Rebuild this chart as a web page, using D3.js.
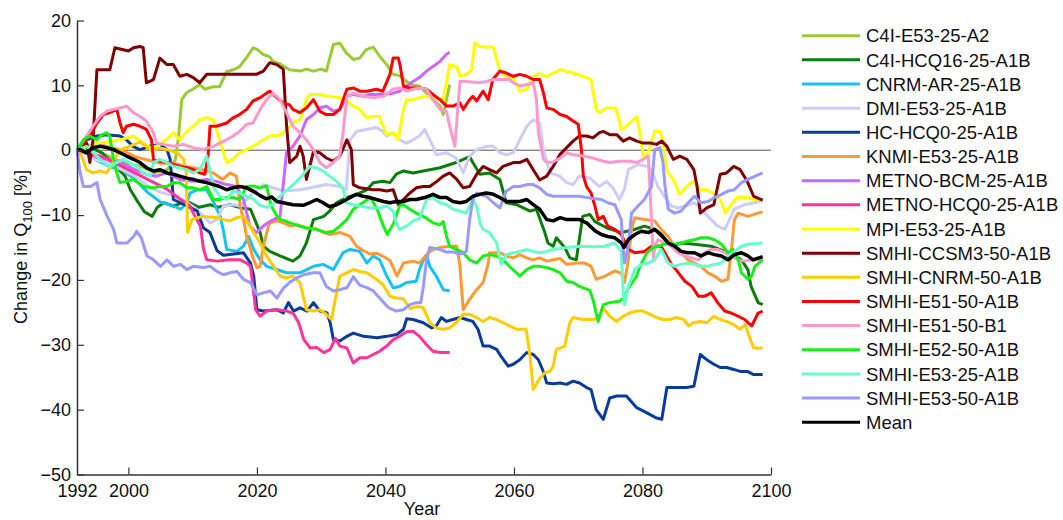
<!DOCTYPE html>
<html>
<head>
<meta charset="utf-8">
<script src="https://cdn.jsdelivr.net/npm/d3@7/dist/d3.min.js"></script>
<style>
  body { margin: 0; background: #fff; }
  svg { font-family: "Liberation Sans", Arial, sans-serif; }
</style>
</head>
<body>
<div id="chart"></div>
<script>
// Dades llegides del gràfic: [any, canvi en %]
const c4iE53 = [[1992,0],[1994,0.8],[1996,-0.5],[1998,-1.5],[2000,-2],[2002,-2.5],[2004,-3.5],[2006,-3],[2007.3,-1.5],[2007.8,2],[2008.3,7.8],[2009.1,8.9],[2010,9.4],[2011.1,10.1],[2011.9,9.4],[2013.2,9.8],[2014.2,9.8],[2015.3,12.1],[2016.3,12.4],[2017.3,12.9],[2018.4,14.3],[2019.4,15.8],[2020.1,15.5],[2020.9,14.8],[2022,14.4],[2022.5,13.7],[2023.6,13.3],[2025.1,12.4],[2026.7,12.2],[2027.7,12.5],[2028.8,12.2],[2030,12.5],[2030.8,12.2],[2031.9,16.3],[2032.9,16.5],[2033.9,15],[2035,14],[2036,14.2],[2037,15.5],[2038.1,15.9],[2039.1,14.5],[2040.2,13.2],[2041.2,11.7],[2042.2,11.5],[2043.3,10.6],[2044.3,10],[2045.3,9.9],[2046.4,8.8],[2047.4,7.8],[2048.5,6.8],[2049,5.5],[2049.5,7.8],[2050,10.1]];

const c4iHcq16 = [[1992,0],[1993,1],[1994,0.5],[1996,-0.5],[1998,-2.5],[1999.5,-4],[2000.3,-6.1],[2001.5,-8],[2002.5,-9.5],[2003.7,-10.2],[2004.5,-8.8],[2005.5,-8.1],[2007,-8.6],[2009.1,-7.9],[2011,-8.8],[2012.7,-8.4],[2014,-8.8],[2015.8,-8.4],[2017.5,-8.9],[2019,-9.1],[2020.5,-12.7],[2021,-14.8],[2022,-15.6],[2023.6,-16.3],[2025.6,-17.1],[2026.7,-16.3],[2027.7,-14.3],[2028.8,-10.7],[2030.4,-10.2],[2031.3,-9.4],[2032.4,-8.1],[2033.9,-7.3],[2035.5,-6.8],[2037.1,-6.1],[2038.1,-5],[2039.6,-4.8],[2040.7,-5],[2041.7,-3.7],[2042.8,-3.2],[2044.3,-3.5],[2045.9,-3.2],[2048.5,-2.7],[2051,-1.9],[2053.1,-1],[2053.6,-1.9],[2054.7,-3.7],[2056.2,-3.5],[2057.8,-4.5],[2058.8,-8.1],[2060.4,-8.4],[2062.5,-9.4],[2063.5,-9.1],[2064.8,-12.7],[2065.3,-14.3],[2066.1,-14.8],[2066.6,-13.5],[2067.9,-15],[2068.7,-16.6],[2069.7,-16.9],[2070.7,-10.2],[2071.8,-9.9],[2072.6,-11],[2074.5,-12],[2076.7,-12.7],[2078.5,-12.3],[2080.3,-11.7],[2081.9,-12.2],[2084.5,-14.8],[2086,-14.3],[2088.1,-14.5],[2090.7,-14.8],[2093.3,-15.8],[2095.4,-16.9],[2096.4,-18.4],[2096.9,-21],[2098,-23.5],[2098.7,-23.8]];

const cnrmAr = [[1992,0],[1993.5,0.5],[1995,-1.5],[1997,-2.5],[1999,-3],[2001,-4.5],[2003,-6.5],[2005,-8],[2007,-8.6],[2008.1,-9.1],[2009.1,-8.1],[2009.6,-6.6],[2010.7,-6.1],[2012.2,-6.1],[2013.3,-8.1],[2014.3,-10.2],[2014.8,-12.5],[2015.3,-15.3],[2016.9,-15.6],[2017.9,-14.8],[2018.7,-13.3],[2019.5,-15.3],[2020.5,-16.9],[2021.5,-17.9],[2023.1,-18.4],[2024.6,-18.9],[2026.7,-18.9],[2028.8,-17.9],[2030.3,-17.6],[2031.9,-18.4],[2033.4,-15.8],[2034.5,-15.3],[2036,-15.6],[2037.1,-17.4],[2038.1,-16.3],[2039.1,-16.9],[2040.2,-19.4],[2041.2,-21.2],[2042.2,-21],[2043.3,-20.4],[2044.8,-20.2],[2045.3,-18.4],[2045.9,-16.9],[2046.4,-16.3],[2046.9,-17.9],[2047.9,-19.4],[2049,-21.5],[2050,-21.7]];

const dmiE53 = [[1992,0],[1993.5,-0.5],[1995,-1.5],[1997,-2],[1999,-3],[2001,-4],[2003,-5.5],[2005,-6.5],[2007,-7],[2009,-8],[2010.5,-9],[2011.7,-10.2],[2012.7,-11.2],[2013.8,-10.7],[2014.8,-8.6],[2016.4,-8.4],[2017.4,-8.6],[2018.5,-7.5],[2019.5,-6.5],[2021,-5.3],[2024.1,-6.3],[2026.7,-6.1],[2029.3,-5.6],[2030.8,-5.3],[2032.9,-5.6],[2033.9,-6.1],[2034.5,1.6],[2035.5,2.9],[2037,3.2],[2038.6,3.5],[2039.6,2.9],[2040.2,2.2],[2041.2,2.7],[2042.2,1.6],[2043.3,1.1],[2044.3,1.6],[2045.3,2.2],[2046.1,3.2],[2046.6,2.2],[2047.4,0.6],[2047.9,-0.7],[2049.5,-0.4],[2051,-1.2],[2052.1,-3.5],[2053.1,-0.9],[2054.2,0.1],[2055.7,0.6],[2056.8,0.6],[2057.8,-0.4],[2058.8,-0.7],[2059.9,-0.4],[2060.9,1.6],[2062,3.7],[2063,4.7],[2064,4.2],[2064.6,0],[2065.6,-3.5],[2067.1,-4],[2068.2,-5],[2069.2,-5.3],[2070.2,-4],[2071.8,-4.3],[2073.3,-5.6],[2074.4,-4.8],[2075.4,-5.8],[2076.4,-7.6],[2077.2,-6],[2077.8,-3],[2079.3,-2.2],[2080.8,-2.5],[2081.6,-3.5],[2082.4,-5.6],[2083.4,-7.1],[2084.5,-8.6],[2085.5,-8.9],[2086.6,-8.6],[2088.1,-8.1],[2089.7,-9.7],[2090.7,-10.7],[2091.7,-11.7],[2092.8,-12.2],[2093.3,-11.2],[2094.3,-9.1],[2095.9,-8.4],[2097.4,-8.1],[2098.7,-7.8]];

const hcHcq0 = [[1992,0],[1993.5,1.6],[1995.1,2.2],[1996.6,2.4],[1998.7,2.2],[1999.7,1.6],[2000.7,0.6],[2001.8,0.1],[2003.3,0.6],[2004.9,0.9],[2006,0.1],[2006.5,-1.4],[2007,-7.6],[2008.1,-8.1],[2009.1,-8.6],[2010.7,-9.4],[2011.7,-12],[2012.7,-12.7],[2013.8,-15.5],[2014.8,-16.2],[2016.4,-16],[2017.9,-15.8],[2019,-17.4],[2019.5,-19.4],[2020,-24.6],[2021,-24.8],[2023.1,-24.6],[2024.1,-25.1],[2024.9,-23.5],[2025.7,-24.8],[2026.7,-24.3],[2027.8,-24.8],[2028.8,-23.5],[2029.8,-24.8],[2030.9,-25.1],[2031.4,-26.6],[2031.9,-29.2],[2032.9,-29.4],[2034,-28.7],[2035,-28.2],[2036.6,-28.7],[2038.7,-28.9],[2040.2,-28.7],[2041.8,-28.4],[2042.8,-27.6],[2043.3,-26],[2044.3,-26.1],[2045.9,-26.6],[2047.2,-27.4],[2047.9,-27.1],[2048.7,-25.8],[2049.5,-26.4],[2050.5,-26.1],[2051.6,-25.8],[2052.6,-26.1],[2053.6,-26.4],[2054.4,-27.6],[2055.2,-30.2],[2056.2,-30.2],[2057.3,-30.7],[2058,-31.8],[2059.1,-33.3],[2059.9,-33],[2060.9,-32.3],[2062,-31.2],[2063,-31.5],[2063.8,-32.3],[2064.6,-34.2],[2065.1,-35.9],[2066.1,-36],[2067.2,-35.9],[2068.2,-36.1],[2069.2,-35.6],[2070.2,-35.9],[2071.3,-36.6],[2072,-36.9],[2072.8,-40],[2073.9,-41.5],[2074.9,-38.2],[2076,-37.9],[2077.5,-37.9],[2079.1,-39.7],[2080.7,-40.5],[2082.2,-41.3],[2083,-41.5],[2083.8,-36.6],[2084.8,-36.6],[2086.9,-36.6],[2088,-36.4],[2089,-31.5],[2090,-32.3],[2091.1,-33],[2092.1,-33.5],[2093.1,-33.5],[2094.2,-33.8],[2095.2,-34.1],[2096.3,-34.1],[2097.3,-34.6],[2098.7,-34.6]];

const knmiE53 = [[1992,0],[1993.5,0.5],[1995,1],[1997,0.5],[1999,0],[2001,-1],[2003,-1.5],[2005,-2],[2007,-2],[2009,-2.5],[2011.6,-3],[2013.2,-3.5],[2014.7,-4.5],[2015.8,-3.5],[2016.8,-4],[2017.4,-8.6],[2017.9,-10.7],[2018.4,-13.3],[2019.5,-16.9],[2020,-18.1],[2020.5,-17.9],[2021,-14.8],[2021.8,-11.7],[2022.1,-11.2],[2023.1,-10.9],[2024.1,-11.2],[2025.2,-11.7],[2026.2,-11.5],[2027.8,-12],[2029.3,-12.2],[2030.4,-12.7],[2031.4,-13],[2033,-12.7],[2034.5,-13.3],[2035.5,-14.8],[2036.6,-15.5],[2037.6,-16],[2038.7,-15.9],[2039.7,-16.4],[2040.7,-17],[2041.8,-19.4],[2042.8,-17.4],[2044.3,-17.1],[2045.3,-17.4],[2046.4,-16.1],[2047.4,-15.3],[2048.5,-15],[2050,-14.8],[2051.1,-14.8],[2051.6,-17.9],[2052.1,-24.6],[2053.1,-23],[2054.2,-21.5],[2055.2,-20.4],[2056,-17.4],[2056.2,-15.8],[2057.8,-15.8],[2058.8,-16.3],[2059.9,-16.6],[2060.9,-16.1],[2062,-16.6],[2063,-16.9],[2064,-16.6],[2065.1,-17.1],[2066.1,-16.9],[2067.2,-16.7],[2068.2,-17.6],[2069.7,-17.4],[2071,-17.4],[2072,-17.9],[2072.8,-19.9],[2074.2,-19.4],[2075.7,-18.6],[2076.7,-19],[2077.2,-20.4],[2077.8,-16.9],[2078.3,-12.2],[2078.8,-10.4],[2080.4,-10.7],[2081.9,-10.9],[2082.9,-12.2],[2084,-13.3],[2085,-14.8],[2086,-15.8],[2087.1,-16.9],[2088.1,-17.4],[2089.1,-17.9],[2090.2,-18.9],[2091.2,-19.4],[2092.3,-20.2],[2093.3,-19.9],[2093.8,-15.8],[2094.3,-10.7],[2094.9,-9.7],[2096.4,-10.2],[2098,-9.7],[2098.7,-9.5]];

const metnoBcm = [[1992,0],[1993.5,-0.5],[1995,-1],[1997,-1.5],[1999,-2],[2001,-3],[2003,-3.8],[2004.4,-4],[2005.9,-3.5],[2008,-4.5],[2010.1,-4.8],[2012.2,-4.5],[2013.7,-4.8],[2015.3,-5.3],[2016.8,-5.6],[2017.9,-7.6],[2018.9,-11.7],[2019.9,-12.7],[2021,-11.7],[2022,-11],[2023.6,-10.2],[2024.1,-5.3],[2024.6,-0.4],[2025.6,0.6],[2026.7,2.2],[2027.7,4.7],[2028.8,5.5],[2029.8,6.5],[2030.8,6.8],[2031.9,6],[2032.9,6.3],[2034,8.3],[2035,8.6],[2036.6,8.3],[2037.6,8.6],[2039.7,8.6],[2041.2,8.8],[2042.2,9.1],[2043.3,9.9],[2044.3,10.6],[2045.3,11.2],[2046.4,12.2],[2047.4,12.9],[2048.5,13.7],[2049.5,14.8],[2050,15.1]];

const metnoHcq0 = [[1992,0],[1994,-0.5],[1996,-1],[1998,-2],[2000,-3],[2002,-4],[2004,-5],[2006,-6],[2008,-7.5],[2009.6,-8.6],[2010.1,-9.7],[2011.2,-11.7],[2011.7,-15.3],[2012.2,-16.9],[2013.8,-17.1],[2015.8,-16.9],[2017.4,-16.9],[2018.4,-17.4],[2019,-17.9],[2019.5,-22],[2019.8,-24.6],[2020.5,-25.6],[2021.5,-24.8],[2023.1,-24.6],[2024.7,-24.8],[2025.7,-25.2],[2026.5,-26.6],[2027.3,-29.2],[2028.3,-30.5],[2029.3,-30.4],[2030.4,-31.2],[2031.4,-30.7],[2032.2,-29],[2032.9,-30.2],[2034,-30.5],[2035,-32.8],[2036,-32],[2037.1,-32],[2038.1,-31.5],[2039.1,-31],[2040.2,-30.2],[2041.2,-29.2],[2042.2,-28.7],[2043.3,-28],[2044.3,-27.9],[2045.3,-28.7],[2046.4,-30],[2047.4,-31],[2048.5,-31.2],[2050,-31.2]];

const mpiE53 = [[1992,0],[1993.5,0.5],[1995.6,1.1],[1998.7,1.6],[2000.8,2.2],[2002.3,1.1],[2003.4,0.4],[2004.4,0.6],[2005.9,1.6],[2007,2.7],[2008,1.6],[2009.1,2.9],[2010.1,3.7],[2011.1,4.7],[2012.2,5],[2013.2,4.7],[2014.2,1.6],[2015.3,-1.9],[2016.3,-1.4],[2017.3,-0.4],[2018.4,0.1],[2019.4,0.6],[2021,1.6],[2022,2.2],[2023.6,2.3],[2024.6,3.2],[2025.6,4.2],[2026.7,4.7],[2027.7,7.8],[2028.2,8.6],[2029.8,8.6],[2031.3,8.3],[2032.9,8.1],[2034,7.6],[2035,6.8],[2036,6.3],[2037.1,5],[2038.1,5.2],[2039.1,5.2],[2039.6,3.7],[2040.2,2.4],[2041.2,2.7],[2042,1.6],[2042.8,6.3],[2043.3,7.8],[2044.3,7.8],[2045.3,8.1],[2046.4,8.3],[2047.4,8.1],[2048.5,7.8],[2049,7.8],[2049.5,10.4],[2050,13.2],[2051.1,12.9],[2051.6,11.4],[2052.7,11.7],[2053.4,12.4],[2053.9,16.6],[2054.7,16],[2055.7,15.9],[2056.8,15.9],[2057.3,14],[2057.8,12.4],[2058.8,11.2],[2059.9,11.2],[2060.9,9.1],[2062,9.4],[2063,11.4],[2064,11.8],[2065.1,11.3],[2066.1,11.9],[2067.2,12.4],[2069.2,11.9],[2070.8,11.4],[2072,10.9],[2072.8,6.3],[2073.3,5.8],[2074.4,6.5],[2075.9,6.5],[2076.7,3.2],[2077.5,3.7],[2079.1,5.2],[2079.6,2.7],[2080.1,-0.9],[2080.9,-0.4],[2081.9,2.9],[2082.7,2.9],[2083.2,1.6],[2083.7,-3],[2084.8,-4.5],[2085.8,-6.8],[2086.9,-5.6],[2087.9,-4.8],[2089,-6.1],[2090,-6.1],[2091,-6.6],[2092.1,-7.6],[2092.9,-9.7],[2093.7,-8.6],[2094.7,-7.3],[2096.3,-7.3],[2097.3,-7.6],[2098.7,-7.6]];

const smhiCcsm3 = [[1992,0],[1992.5,0.1],[1993.5,1.1],[1994,-1.9],[1994.5,1.6],[1995.1,12.4],[1997.1,12.4],[1997.9,15.8],[1999.2,15.5],[2000,15.3],[2000.8,15.8],[2001.8,16],[2002.3,15.8],[2002.8,10.4],[2003.9,10.9],[2004.9,14.2],[2006,13.2],[2007,13.2],[2008,11.4],[2009.1,11.7],[2010.1,11.2],[2011.1,10.4],[2012.2,11.7],[2014.2,11.7],[2016.3,11.7],[2018.9,11.7],[2019.9,11.7],[2021,12.2],[2022,13.5],[2023.1,13.2],[2024.1,12.5],[2024.6,4],[2025.1,-1.9],[2026.2,-0.9],[2026.7,0.6],[2027.2,-0.9],[2027.7,-4.5],[2028.8,-0.2],[2029.8,-0.4],[2030.8,-1.2],[2031.9,-1.7],[2032.9,-0.9],[2034,1.6],[2034.7,0.1],[2035,-5.3],[2036,-5.8],[2038.1,-6.1],[2039.1,-6.1],[2040.2,-6.3],[2041.2,-6.1],[2042,-8.4],[2042.8,-7.6],[2043.8,-6.6],[2044.8,-5.8],[2045.9,-5.6],[2046.9,-5.6],[2048,-4.8],[2049,-4],[2050,-3.5],[2051.1,-4.5],[2052.1,-5.8],[2053.1,-5.6],[2054.2,-3.7],[2055.2,-2.5],[2056.2,-3],[2057.3,-3.5],[2058.3,-2.5],[2059.9,-1.9],[2060.9,-1.9],[2062,-1.4],[2063,-3],[2064,-4.6],[2065.1,-4],[2066.1,-2.5],[2067.2,-0.6],[2068.2,0.4],[2069.2,1.4],[2070.2,2.2],[2071.3,2.2],[2072.3,1.9],[2073.3,2.7],[2073.9,2.9],[2074.9,2.4],[2076,2.4],[2077,1.4],[2078,1.9],[2079.1,1.4],[2080.1,1.1],[2081.2,1.1],[2082.2,0.9],[2083,1.4],[2083.8,0.6],[2084.8,-1.4],[2085.8,-0.9],[2086.9,-1.4],[2088,-3],[2088.5,-5.6],[2089,-9.7],[2090,-8.9],[2091.1,-8.4],[2092.1,-3.7],[2093.1,-3.5],[2094.2,-2.5],[2095.2,-3],[2096.3,-4.8],[2097.3,-7.1],[2098.7,-7.7]];

const smhiCnrm = [[1992,0],[1992.7,-0.9],[1993.5,-3],[1994.5,-3.5],[1995.6,-3.2],[1996.6,-3.5],[1997.6,-1.9],[1998.7,0.1],[2000,0.5],[2001.8,1.3],[2003.5,0],[2005,0.3],[2006,0.1],[2007.6,-0.4],[2008.6,-1.4],[2009,-3.5],[2009.2,-12.7],[2009.9,-10.7],[2010.7,-10.4],[2011.7,-10.2],[2013.8,-10.4],[2014.8,-10.7],[2015.8,-10.9],[2016.9,-10.4],[2017.9,-10.2],[2018.6,-11.2],[2019.5,-12.7],[2020.5,-14.3],[2021.5,-16.3],[2022.6,-17.9],[2023.6,-19.4],[2024.6,-19.7],[2025.6,-19.4],[2026.7,-20.4],[2027.7,-24.6],[2028.8,-24.8],[2029.8,-24.6],[2030.8,-25.3],[2031.6,-26.1],[2032.4,-22],[2032.9,-19.4],[2034,-18.9],[2035,-18.4],[2036,-18.7],[2037.1,-18.9],[2038.6,-19.9],[2039.6,-20.7],[2040.7,-22.5],[2041.7,-22.8],[2042.8,-22.9],[2043.8,-24.4],[2044.9,-24.1],[2045.9,-24.3],[2046.9,-26.6],[2047.9,-27.4],[2049,-27.6],[2050,-27.4],[2051,-26.6],[2052.1,-25.3],[2053.1,-25.3],[2054.2,-25.8],[2055.2,-26.4],[2056.2,-25.8],[2057.3,-26.1],[2058.3,-26.6],[2059.3,-27.1],[2060.4,-27.6],[2061.9,-27.6],[2062.5,-31.8],[2063,-36.9],[2064,-35.2],[2064.8,-34.3],[2065.6,-34.1],[2066.1,-33.3],[2066.6,-30.7],[2067.2,-30.5],[2067.9,-30.2],[2068.7,-26.6],[2069.2,-25.8],[2070.8,-26.1],[2072.3,-26.1],[2073.1,-25.8],[2073.9,-24.3],[2074.9,-25.6],[2076,-26.4],[2077,-25.6],[2078,-25.1],[2079.1,-24.8],[2080.1,-24.8],[2081.2,-25.3],[2082.2,-25.8],[2083.2,-26.1],[2084.3,-26.1],[2085.3,-25.8],[2086.4,-26.1],[2087.2,-27.1],[2087.9,-26.6],[2089,-26.4],[2090,-26.6],[2091.1,-25.6],[2092.1,-26.1],[2093.1,-26.4],[2094.2,-26.9],[2095.2,-27.6],[2096,-26.9],[2096.8,-29.2],[2097.3,-30.5],[2098.7,-30.5]];

const smhiE51A1b = [[1992,0],[1993.5,1.6],[1994,2.2],[1995.1,4.2],[1996.1,5.5],[1997.1,5.8],[1998.2,6.3],[1998.7,4.2],[1999.2,2.7],[1999.7,3.7],[2000.8,4],[2001.8,3.7],[2002.8,3.2],[2003.6,1.6],[2003.9,-1.4],[2004.9,-1.7],[2006,-1.9],[2007,-2.2],[2008,-2.5],[2009.1,-2.7],[2010.1,-3],[2011.1,-3.5],[2011.9,-3.7],[2012.4,-0.9],[2012.7,3.7],[2013.7,3.7],[2015.3,4.2],[2016.3,5],[2017.3,5.5],[2018.4,6.3],[2019.4,7.6],[2020.5,8.1],[2021.5,8.8],[2022,9.1],[2023.1,8.1],[2024.1,7.3],[2025.1,7],[2025.6,6.3],[2026.7,5.8],[2027.7,6.5],[2028.8,7.8],[2029.8,6],[2030.8,5.5],[2031.9,5.5],[2032.9,6.3],[2034,9.4],[2035,9.6],[2036,9.1],[2037.1,9.1],[2038.6,9.4],[2039.6,9.1],[2040.7,11.7],[2041.2,14.2],[2042,14.2],[2042.3,13],[2042.8,9.9],[2043.8,9.6],[2045.3,9.6],[2046.4,9.4],[2047.4,8.6],[2048.5,7.8],[2049.5,6.8],[2050.5,6.8],[2051.6,7.3],[2052.1,6.3],[2053.1,7.8],[2053.6,8.3],[2054.2,7.6],[2055.2,9.1],[2056,7.8],[2056.7,10.9],[2057.8,12.2],[2058.8,11.9],[2059.9,11.4],[2060.9,11.7],[2062,11.4],[2063,10.9],[2064,10.9],[2064.6,8.8],[2065.1,6.5],[2066.1,6.3],[2067.2,5.5],[2068.2,5.2],[2069.2,4.5],[2070,4],[2070.5,0.1],[2070.8,-4],[2071.3,-5.6],[2072,-6.6],[2072.6,-8.6],[2073.1,-10.7],[2073.9,-10.2],[2074.6,-11.7],[2075.7,-12.2],[2076.7,-13],[2077.8,-15.3],[2078.8,-15.8],[2080.3,-15.6],[2081.4,-14.8],[2082.9,-14.8],[2084.5,-17.6],[2085.6,-18.9],[2086.6,-20.2],[2087.7,-21],[2088.7,-22.5],[2089.7,-22.5],[2090.7,-22],[2091.7,-23.5],[2092.8,-24.8],[2093.8,-25.1],[2094.9,-25.6],[2095.9,-26.1],[2097,-27.1],[2098,-25.1],[2098.7,-24.8]];

const smhiE51B1 = [[1992,0],[1993.5,2.2],[1994.5,3.7],[1995.6,5.2],[1996.6,6],[1997.7,6.3],[1998.7,6.5],[1999.7,6.8],[2000.8,5.8],[2001.8,5.2],[2002.8,4.5],[2003.9,2.7],[2004.4,1.1],[2005.4,0.9],[2007,0.6],[2008.5,0.9],[2010.1,0.4],[2011.6,0.1],[2013.2,0.6],[2014.2,1.1],[2015.3,1.6],[2016.3,2.2],[2017.3,2.9],[2018.4,4],[2019.4,4.2],[2020.5,6.3],[2021.5,7.8],[2022.5,8.8],[2023.6,7.8],[2024.6,5.8],[2025.6,3.7],[2026.7,2.7],[2027.7,1.6],[2028.8,0.1],[2029.8,-1.9],[2030.8,-2.7],[2031.9,-1.9],[2032.9,-0.9],[2033.4,2.7],[2034,8.3],[2035,8.8],[2036.6,8.3],[2038.1,8.1],[2039.7,8.3],[2041.2,9.4],[2042.2,9.6],[2043.3,9.1],[2044.3,9.4],[2045.3,9.6],[2046.4,9.4],[2047.4,7.8],[2048.5,6.3],[2049.5,6],[2050,3.7],[2050.8,0.6],[2051.6,10.6],[2052.6,10.6],[2054.7,10.4],[2055.7,10.6],[2056.8,10.9],[2059.3,10.9],[2059.9,10.4],[2060.9,9.9],[2062,10.1],[2063,10.4],[2063.5,7.8],[2063.8,2.7],[2064.6,-1.4],[2065.1,-1.9],[2066.1,-1.8],[2067.2,-1.2],[2068.2,-0.4],[2069.2,-0.7],[2070.8,-0.9],[2072.3,-1.2],[2073.9,-1.7],[2074.9,-1.9],[2076.4,-1.7],[2078,-1.7],[2079.1,-1.9],[2080.1,-1.4],[2080.9,-0.9],[2081.2,-6.6],[2081.4,-10.7],[2081.7,-16.9],[2081.9,-14.8],[2082.4,-13.8],[2083.4,-14.3],[2084.5,-14.8],[2085.5,-15.8],[2086.6,-16.3],[2087.7,-16.6],[2088.7,-16.9],[2089.7,-15.8],[2090.7,-15.3],[2091.7,-15.3],[2092.8,-15.8],[2093.8,-16.3],[2094.9,-16.9],[2095.9,-17.1],[2097,-16.9],[2098.7,-16.9]];

const smhiE52 = [[1992,0],[1993,1.6],[1994,2.2],[1995.1,1.6],[1995.6,2.2],[1996.6,2.7],[1997.1,2.2],[1997.6,-0.9],[1998.2,-3.5],[1998.7,-5],[1999.7,-4.8],[2000.8,-4.5],[2002.3,-5.6],[2003.9,-5.8],[2004.9,-5.6],[2006,-5.6],[2007,-5],[2008,-5],[2009.1,-5.8],[2010.1,-5.8],[2011.1,-6.1],[2012.2,-5.6],[2013.2,-7.6],[2014.2,-7.6],[2015.3,-7.3],[2016.3,-7.3],[2017.3,-7.6],[2018.4,-5.6],[2019.4,-5.5],[2020.5,-5.8],[2021.5,-5.5],[2022.2,-8.5],[2023.3,-10.5],[2025.1,-11.2],[2026.7,-11.7],[2027.7,-12],[2029.3,-12.2],[2030.8,-12.7],[2031.9,-12.5],[2032.9,-11.7],[2034,-10.7],[2035,-9.1],[2036,-8.4],[2037.7,-7.3],[2038.7,-9.1],[2039.7,-11.7],[2040.3,-13],[2041.3,-11.2],[2042.2,-8.6],[2042.8,-8.4],[2043.8,-9.1],[2044.8,-9.7],[2046.1,-10.3],[2047.4,-11.2],[2048.5,-11.5],[2049,-11],[2049.5,-13.3],[2050,-14.8],[2051,-15.3],[2052.1,-15.8],[2053.1,-16.9],[2054.2,-17.4],[2055.2,-16.3],[2056.2,-16.1],[2057.3,-16.3],[2058.3,-16.9],[2059.3,-17.9],[2060.4,-18.9],[2060.9,-19.4],[2062,-18.4],[2063,-17.9],[2064,-17.9],[2065.1,-18.1],[2066.1,-18.4],[2067.2,-18.9],[2068.2,-20.2],[2069.2,-20.4],[2070.2,-21],[2071.8,-21.6],[2072.3,-23],[2073.1,-26.4],[2073.9,-23.8],[2074.9,-23.5],[2076.4,-23.3],[2077,-22.8],[2078,-21],[2079.1,-19.4],[2079.6,-17.9],[2080.7,-15.8],[2081.7,-15],[2082.7,-14.7],[2084,-14.3],[2085,-14.5],[2086,-14.3],[2087.1,-14],[2088.1,-13.8],[2089.1,-13.5],[2090.2,-13.5],[2091.2,-13.8],[2092.3,-14.5],[2093.3,-15.8],[2094.1,-15.3],[2094.9,-16.9],[2095.4,-18.9],[2096.4,-19.9],[2097,-19.4],[2097.5,-17.9],[2098.7,-16.9]];

const smhiE53_25 = [[1992,0],[1993.5,0.6],[1995.1,-0.9],[1996.1,-1.9],[1997.1,-2.5],[1998.2,-1.9],[1999.2,-1.4],[2000.2,-1.9],[2001.3,-2.5],[2002.3,-3.5],[2003.4,-4],[2003.9,-1.9],[2004.9,-1.4],[2006,-1.9],[2007,-2.5],[2008,-2.7],[2009.1,-3],[2010.1,-3.5],[2011.1,-3],[2012.2,-0.9],[2013.2,-5.6],[2014.2,-7.1],[2015.3,-7.6],[2016.3,-6.3],[2017.3,-6.6],[2018.4,-7.1],[2019.4,-7.5],[2020.5,-8.5],[2021.5,-8.8],[2022.5,-8.3],[2023.1,-7.6],[2024.1,-6.6],[2025.1,-5.8],[2026.2,-4.8],[2027.2,-3.7],[2028.2,-2.5],[2029.3,-2.7],[2030.3,-3.2],[2031.3,-4],[2032.4,-4.8],[2033.4,-5.8],[2033.9,-8.1],[2035,-8.4],[2036,-8.6],[2037.7,-8.9],[2039.1,-8.9],[2040.2,-8.6],[2041.2,-9.4],[2041.7,-11.2],[2042.2,-12.2],[2043.3,-11.7],[2044.3,-10.9],[2045.3,-10.5],[2046.4,-7.6],[2047.4,-7.3],[2048.5,-8.1],[2049.5,-8.4],[2050.5,-9.1],[2051.6,-9.4],[2052.6,-9.7],[2053.6,-7.6],[2054.2,-8.6],[2054.7,-11.2],[2055.2,-12.2],[2056.2,-12.7],[2057.3,-14.3],[2058,-17.6],[2058.8,-16.1],[2059.9,-15.8],[2060.9,-15.6],[2062,-15.3],[2063,-15.6],[2064,-15.8],[2065.1,-15.6],[2066.1,-15.3],[2068.2,-15],[2070.2,-14.8],[2072.6,-14.9],[2074.1,-14.8],[2075.7,-14.3],[2076.7,-15.6],[2077,-22],[2077.2,-23.8],[2077.8,-21],[2078.8,-18.4],[2079.8,-17.6],[2080.9,-17.4],[2081.9,-16.9],[2082.9,-15.3],[2084,-17.4],[2085,-17.9],[2086,-17.6],[2087.1,-17.4],[2088.1,-17.6],[2089.1,-17.9],[2090.2,-17.9],[2091.2,-17.6],[2092.3,-17.4],[2093.3,-16.3],[2094.3,-15.6],[2095.4,-14.8],[2096.4,-14.5],[2098.7,-14.3]];

const smhiE53_50 = [[1992,0],[1992.5,-3.5],[1993,-5.6],[1994.1,-5.6],[1995.1,-5],[1995.6,-7.6],[1996.7,-10.2],[1997.7,-12.2],[1998.2,-14.3],[1999.8,-14.3],[2000.8,-13.3],[2001.3,-12.5],[2002,-13.5],[2002.9,-16.3],[2003.9,-16.9],[2005,-17.9],[2006,-16.9],[2007,-17.9],[2008.1,-17.6],[2009.1,-18.4],[2010.1,-17.9],[2011.7,-18.1],[2012.7,-17.9],[2013.8,-18.7],[2014.8,-19.2],[2015.8,-18.9],[2016.9,-18.7],[2017.9,-19.9],[2019,-20.4],[2020,-22.3],[2021,-22],[2022.1,-21.7],[2023.1,-22.8],[2024.1,-21.3],[2025.2,-20.3],[2026.2,-19.7],[2027.3,-19.2],[2028.8,-18.9],[2029.8,-18.9],[2030.8,-21],[2031.9,-21.7],[2032.9,-21.5],[2034,-21.2],[2035,-19.5],[2036,-20.8],[2037.1,-21.2],[2038.1,-21.7],[2039.1,-22.8],[2040.2,-24],[2040.7,-24.4],[2041.7,-24.8],[2042.8,-24.6],[2043.8,-23.8],[2044.8,-23.5],[2045.5,-23.5],[2045.9,-21],[2046.4,-16.9],[2046.9,-15],[2048.5,-15.3],[2049.5,-15.7],[2050.5,-15.7],[2051.6,-16],[2052.6,-15.6],[2053.1,-10.7],[2053.6,-7.6],[2054.2,-6.6],[2054.7,-6.8],[2055.7,-7.1],[2056.8,-8.1],[2057.8,-8.9],[2058.3,-7.6],[2058.8,-6.3],[2059.9,-5.6],[2060.9,-5.6],[2062,-5.3],[2063,-5.3],[2064,-5.8],[2065.1,-6.8],[2066.1,-7.1],[2068.2,-7.1],[2070.2,-7.1],[2072.6,-7.5],[2073.6,-7.6],[2074.6,-8.1],[2075.7,-8.4],[2076.7,-10.7],[2077,-15.3],[2077.2,-17.4],[2077.8,-14.8],[2078.3,-9.7],[2079.3,-8.6],[2080.3,-7.6],[2081.4,-5.6],[2081.9,0.1],[2082.7,0.4],[2083.2,-1.9],[2083.5,-5.6],[2084,-9.1],[2085,-9.7],[2086,-9.4],[2087.1,-8.1],[2088.1,-7.1],[2089.1,-8.1],[2090.2,-7.9],[2091.2,-7.3],[2092.3,-6.8],[2093.3,-6.3],[2094.3,-6.1],[2095.4,-5],[2096.4,-4.5],[2098.7,-3.5]];

const meanChange = [[1992,0],[1992.5,0.1],[1993.5,-0.4],[1994.5,0.4],[1995.6,0.6],[1996.6,0.4],[1997.7,0.1],[1998.7,-0.4],[1999.7,-0.9],[2000.8,-1.4],[2001.8,-1.9],[2002.8,-2.7],[2003.9,-3.2],[2004.9,-3],[2006,-3.5],[2007,-3.7],[2008,-4],[2009.1,-4.3],[2010.1,-4.5],[2011.1,-4.8],[2012.2,-5],[2013.2,-5.3],[2014.2,-5.6],[2015.3,-6.1],[2016.3,-5.8],[2017.3,-5.6],[2018.4,-5.8],[2019.4,-6.3],[2020.5,-7],[2021.5,-7.5],[2022.3,-7.2],[2023.1,-7.9],[2024.1,-8.1],[2025.6,-8.4],[2027.2,-8.5],[2028.2,-8.1],[2029.3,-7.6],[2030.3,-8.1],[2031.3,-8.7],[2032.4,-8.4],[2033.4,-7.9],[2034.5,-7.3],[2035.5,-6.8],[2036.5,-7.1],[2037.6,-7.3],[2038.6,-7.6],[2039.7,-7.9],[2040.7,-8.1],[2041.7,-7.9],[2042.8,-7.9],[2043.8,-7.6],[2044.8,-7.6],[2046.1,-7.3],[2047.4,-6.8],[2048.5,-7.3],[2049.5,-7.3],[2050.5,-7.9],[2051.6,-8.1],[2052.6,-7.9],[2053.6,-7.1],[2054.7,-6.8],[2055.7,-6.6],[2056.8,-6.8],[2057.8,-7.3],[2058.8,-7.9],[2060.9,-7.9],[2062,-7.6],[2063,-8.4],[2064,-9.1],[2065.1,-10.7],[2066.1,-10.9],[2067.2,-10.4],[2068.2,-10.7],[2070.2,-10.7],[2071.3,-11.2],[2072.6,-12.4],[2073.6,-13],[2074.6,-13.3],[2075.7,-13.5],[2076.7,-14.3],[2077.1,-15],[2077.8,-13.8],[2078.8,-13],[2079.8,-12.5],[2080.9,-12.7],[2081.9,-12.2],[2082.9,-13],[2084,-14.3],[2085,-14.8],[2086,-15.6],[2087.1,-15.8],[2088.1,-15.8],[2089.1,-16.3],[2090.2,-15.8],[2091.2,-16.1],[2092.3,-16.3],[2093.3,-16.9],[2094.3,-16.1],[2095.4,-15.8],[2096.4,-16.3],[2097.2,-16.9],[2098.7,-16.4]];

const seriesNames = ['C4I-E53-25-A2', 'C4I-HCQ16-25-A1B', 'CNRM-AR-25-A1B', 'DMI-E53-25-A1B', 'HC-HCQ0-25-A1B', 'KNMI-E53-25-A1B', 'METNO-BCM-25-A1B', 'METNO-HCQ0-25-A1B', 'MPI-E53-25-A1B', 'SMHI-CCSM3-50-A1B', 'SMHI-CNRM-50-A1B', 'SMHI-E51-50-A1B', 'SMHI-E51-50-B1', 'SMHI-E52-50-A1B', 'SMHI-E53-25-A1B', 'SMHI-E53-50-A1B', 'Mean'];
const seriesValues = [c4iE53, c4iHcq16, cnrmAr, dmiE53, hcHcq0, knmiE53, metnoBcm, metnoHcq0, mpiE53, smhiCcsm3, smhiCnrm, smhiE51A1b, smhiE51B1, smhiE52, smhiE53_25, smhiE53_50, meanChange];
const xTicks = [1992, 2000, 2020, 2040, 2060, 2080, 2100];
const yTicks = [-50, -40, -30, -20, -10, 0, 10, 20];

// Colors (MATLAB-like palette)
const colors = ['#99cc33', '#0a7d0a', '#14c3f5', '#ccccff', '#083c9c', '#ff9933', '#cc66ff', '#ff3399', '#ffff00', '#800000', '#ffcc00', '#ff0000', '#ff99cc', '#16f016', '#66ffcc', '#9999ff', '#000000'];

const W = 1063, H = 520;
const svg = d3.select('#chart').append('svg')
    .attr('width', W)
    .attr('height', H);

const x = d3.scaleLinear().domain([1992, 2100]).range([77, 771]);
const y = d3.scaleLinear().domain([-50, 20]).range([474.5, 20.5]);

// zero line
svg.append('line')
    .attr('x1', x(1992)).attr('x2', x(2100))
    .attr('y1', y(0)).attr('y2', y(0))
    .attr('stroke', '#555')
    .attr('stroke-width', 1);

const line = d3.line()
    .x(d => x(d[0]))
    .y(d => y(d[1]));

svg.append('g')
    .selectAll('path')
    .data(seriesValues)
    .enter().append('path')
    .attr('d', line)
    .attr('fill', 'none')
    .attr('stroke', (d, i) => colors[i])
    .attr('stroke-width', (d, i) => i === seriesValues.length - 1 ? 3.5 : 3)
    .attr('stroke-linejoin', 'round');

// axes
const xAxis = svg.append('g')
    .attr('transform', `translate(0,${y(-50)})`)
    .call(d3.axisBottom(x).tickValues(xTicks).tickFormat(d3.format('d')).tickSize(-7).tickSizeOuter(0).tickPadding(10));

const yAxis = svg.append('g')
    .attr('transform', `translate(${x(1992)},0)`)
    .call(d3.axisLeft(y).tickValues(yTicks).tickSize(-7).tickSizeOuter(0).tickPadding(6));

[xAxis, yAxis].forEach(a => {
    a.select('.domain').attr('stroke', '#333').attr('stroke-width', 1.5);
    a.selectAll('.tick line').attr('stroke', '#333').attr('stroke-width', 1.2);
    a.selectAll('.tick text')
        .attr('fill', '#111')
        .style('font-size', '18px')
        .style('font-family', '"Liberation Sans", Arial, sans-serif');
});
// no inward tick at the corner
xAxis.selectAll('.tick').filter(d => d === 1992).select('line').remove();

// axis titles
svg.append('text')
    .attr('x', 422)
    .attr('y', 515)
    .attr('text-anchor', 'middle')
    .style('font-size', '18px')
    .attr('fill', '#111')
    .text('Year');

const yTitle = svg.append('text')
    .attr('transform', 'translate(27,247) rotate(-90)')
    .attr('text-anchor', 'middle')
    .style('font-size', '18px')
    .attr('fill', '#111');
yTitle.append('tspan').text('Change in Q');
yTitle.append('tspan').attr('dy', 5).style('font-size', '13px').text('100');
yTitle.append('tspan').attr('dy', -5).text(' [%]');

// legend
const legend = svg.append('g');
const rowH = 24.16, row0 = 35.7;
const items = legend.selectAll('g')
    .data(seriesNames)
    .enter().append('g')
    .attr('transform', (d, i) => `translate(0,${row0 + i * rowH})`);

items.append('line')
    .attr('x1', 802).attr('x2', 860)
    .attr('stroke', (d, i) => colors[i])
    .attr('stroke-width', 3);

items.append('text')
    .attr('x', 866)
    .attr('dy', '0.36em')
    .style('font-size', '18.5px')
    .attr('fill', '#111')
    .text(d => d);
</script>
</body>
</html>
